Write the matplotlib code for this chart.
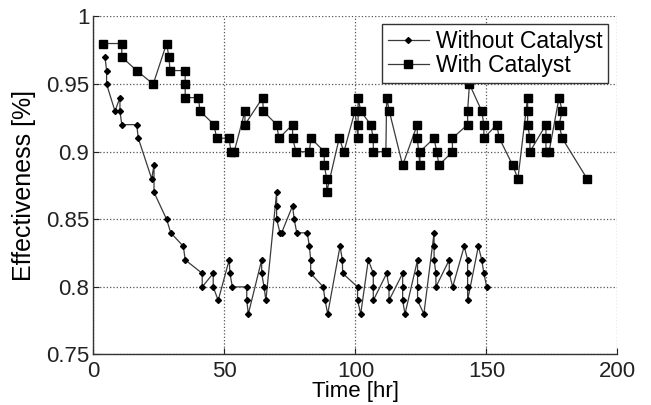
import matplotlib
matplotlib.use("Agg")
import matplotlib.pyplot as plt

plt.rcParams['font.family'] = ['Liberation Sans', 'DejaVu Sans']

# Without catalyst: time [hr] and effectiveness
t_without = [4.4, 5, 5, 8.2, 10.1, 10.1, 10.8, 16.5, 17.1, 22.2, 23.1, 23.1,
             27.9, 29.5, 34.3, 35, 41.5, 41.5, 45.7, 45.7, 47.6, 51.8, 52.1, 53,
             58.5, 58.5, 59.1, 64.2, 64.2, 65.1, 65.8, 69.9, 69.9, 69.9, 71.2, 71.8,
             76, 76.6, 77.6, 81.6, 82.4, 82.9, 82.9, 87.7, 88.4, 89.4, 94.1, 95,
             95.1, 100.8, 100.8, 102, 104.9, 106.8, 106.8, 106.8, 111.9, 112.8, 112.8,
             118, 118, 118, 118.9, 123.7, 123.7, 123.7, 123.7, 126.1, 130, 130, 130,
             130.7, 130.7, 135.8, 135.8, 137.1, 141.5, 142.8, 142.8, 142.8, 142.8,
             146.9, 148.2, 149, 150.1]
eff_without = [0.97, 0.96, 0.95, 0.93, 0.94, 0.93, 0.92, 0.92, 0.91, 0.88, 0.89, 0.87,
               0.85, 0.84, 0.83, 0.82, 0.81, 0.80, 0.81, 0.80, 0.79, 0.82, 0.81, 0.80,
               0.80, 0.79, 0.78, 0.82, 0.81, 0.80, 0.79, 0.87, 0.86, 0.85, 0.84, 0.84,
               0.86, 0.85, 0.84, 0.84, 0.83, 0.82, 0.81, 0.80, 0.79, 0.78, 0.83, 0.82,
               0.81, 0.80, 0.79, 0.78, 0.82, 0.81, 0.80, 0.79, 0.81, 0.80, 0.79,
               0.81, 0.80, 0.79, 0.78, 0.82, 0.81, 0.80, 0.79, 0.78, 0.84, 0.83, 0.82,
               0.81, 0.80, 0.82, 0.81, 0.80, 0.83, 0.82, 0.81, 0.80, 0.79,
               0.83, 0.82, 0.81, 0.80]

# With catalyst
t_with = [3.7, 10.8, 10.8, 16.5, 22.8, 27.9, 28.8, 29.2, 35, 35, 35, 40, 40.7,
          46, 47, 51.8, 52.4, 53.7, 57.8, 57.8, 64.6, 64.8, 69.9, 70.8, 76, 76,
          77.3, 82.4, 83, 88.1, 88.1, 89, 89, 93.8, 95.6, 99.8, 101, 101, 101, 102,
          105.8, 106.8, 106.8, 111.6, 111.9, 112.9, 118, 123.6, 123.6, 124.6, 124.6,
          130, 131, 131.9, 137, 137, 142.8, 142.8, 143.5, 148.2, 149, 149, 153.9,
          154.9, 160, 162, 165.7, 165.7, 165.7, 166.6, 166.6, 172.7, 172.7, 172.7,
          173.9, 177.7, 178.9, 177.7, 178.9, 188.4]
eff_with = [0.98, 0.98, 0.97, 0.96, 0.95, 0.98, 0.97, 0.96, 0.96, 0.95, 0.94, 0.94, 0.93,
            0.92, 0.91, 0.91, 0.90, 0.90, 0.93, 0.92, 0.94, 0.93, 0.92, 0.91, 0.92, 0.91,
            0.90, 0.90, 0.91, 0.90, 0.89, 0.88, 0.87, 0.91, 0.90, 0.93, 0.91, 0.92, 0.94, 0.93,
            0.92, 0.91, 0.90, 0.90, 0.94, 0.93, 0.89, 0.92, 0.91, 0.89, 0.90,
            0.91, 0.90, 0.89, 0.90, 0.91, 0.92, 0.93, 0.95, 0.93, 0.92, 0.91, 0.92,
            0.91, 0.89, 0.88, 0.94, 0.93, 0.92, 0.91, 0.90, 0.92, 0.91, 0.90,
            0.90, 0.94, 0.93, 0.92, 0.91, 0.88]

fig = plt.figure(figsize=(6.51, 4.05), dpi=100)
ax = fig.add_axes([0.1436, 0.1247, 0.8049, 0.8346])

ax.plot(t_without, eff_without, color='#3a3a3a', lw=0.9, marker='D', ms=3.0,
        mfc='black', mec='black', label='Without Catalyst')
ax.plot(t_with, eff_with, color='#3a3a3a', lw=0.9, marker='s', ms=5.5,
        mfc='black', mec='black', label='With Catalyst')

ax.set_xlim(0, 200)
ax.set_ylim(0.75, 1)
ax.set_xticks([0, 50, 100, 150, 200])
ax.set_yticks([0.75, 0.8, 0.85, 0.9, 0.95, 1])
ax.set_yticklabels(['0.75', '0.8', '0.85', '0.9', '0.95', '1'])
ax.tick_params(direction='in', length=4, width=0.8, labelsize=16, colors='#222222')
ax.tick_params(axis='x', pad=5)
ax.tick_params(axis='y', pad=3)
ax.grid(True, linestyle=':', color='#555555', linewidth=0.9)
ax.set_axisbelow(True)
for side in ['top', 'right']:
    ax.spines[side].set_visible(False)
for side in ['left', 'bottom']:
    ax.spines[side].set_color('#333333')
    ax.spines[side].set_linewidth(1.0)

ax.set_xlabel('Time [hr]', fontsize=16, labelpad=-1)
ax.set_ylabel('Effectiveness [%]', fontsize=18, labelpad=7)

leg = ax.legend(loc='upper right', bbox_to_anchor=(0.982, 0.978), fontsize=16.5,
                frameon=True, fancybox=False, framealpha=1, edgecolor='#333333',
                handlelength=1.8, handletextpad=0.3, borderpad=0.25,
                labelspacing=0.05, borderaxespad=0)
leg.get_frame().set_linewidth(1.0)

fig.savefig('out.png', dpi=100)
